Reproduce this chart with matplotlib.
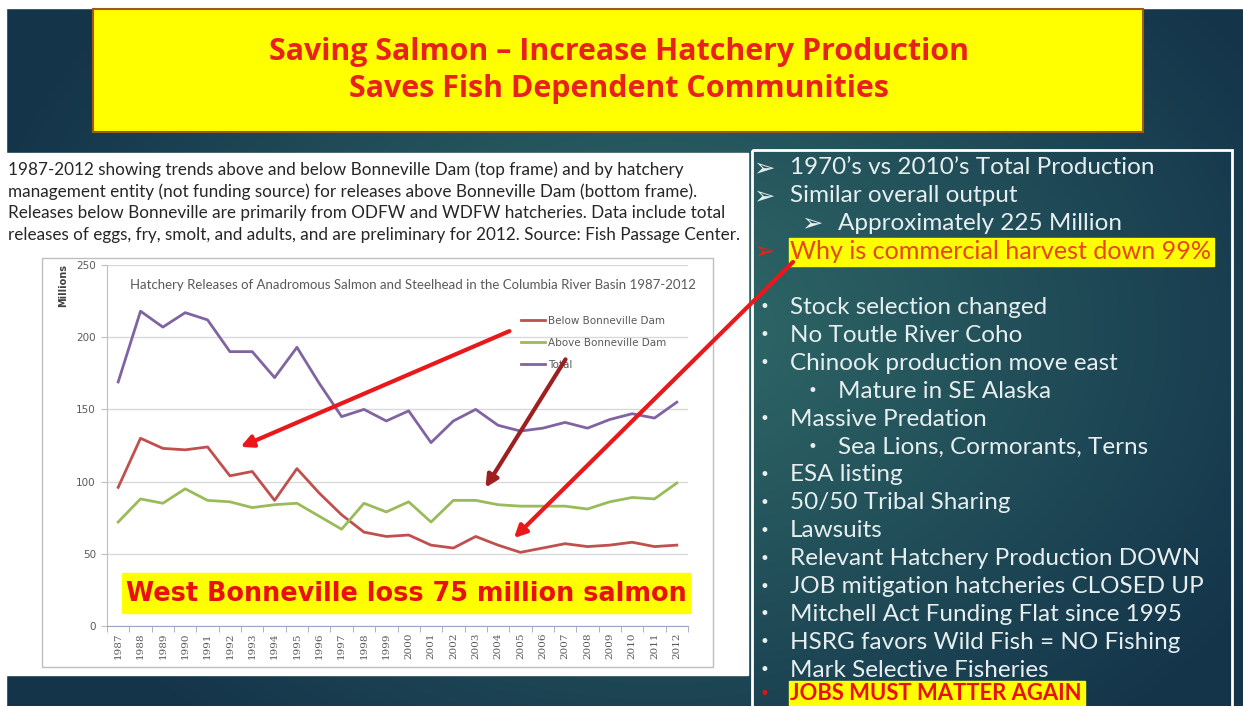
import numpy as np
import matplotlib.pyplot as plt
from matplotlib.patches import Rectangle, FancyArrowPatch
from matplotlib.lines import Line2D
import matplotlib.colors as mcolors

W, H = 1243, 706

# hatchery releases, millions of fish
years = list(range(1987, 2013))
below_bonneville = [96, 130, 123, 122, 124, 104, 107, 87, 109, 92, 77, 65, 62,
                    63, 56, 54, 62, 56, 51, 54, 57, 55, 56, 58, 55, 56]
above_bonneville = [72, 88, 85, 95, 87, 86, 82, 84, 85, 76, 67, 85, 79,
                    86, 72, 87, 87, 84, 83, 83, 83, 81, 86, 89, 88, 99]
total = [169, 218, 207, 217, 212, 190, 190, 172, 193, 168, 145, 150, 142,
         149, 127, 142, 150, 139, 135, 137, 141, 137, 143, 147, 144, 155]
series_names = ['Below Bonneville Dam', 'Above Bonneville Dam', 'Total']
series_colors = ['#C0504D', '#9BBB59', '#8064A2']

title_lines = ['Saving Salmon \u2013 Increase Hatchery Production',
               'Saves Fish Dependent Communities']
chart_title = 'Hatchery Releases of Anadromous Salmon and Steelhead in the Columbia River Basin 1987-2012'
caption_lines = [
    '1987-2012 showing trends above and below Bonneville Dam (top frame) and by hatchery',
    'management entity (not funding source) for releases above Bonneville Dam (bottom frame).',
    'Releases below Bonneville are primarily from ODFW and WDFW hatcheries. Data include total',
    'releases of eggs, fry, smolt, and adults, and are preliminary for 2012. Source: Fish Passage Center.',
]
banner = 'West Bonneville loss 75 million salmon'

# (indent level, bullet, text, style)
panel_lines = [
    (0, '\u27a2', '1970\u2019s vs 2010\u2019s Total Production', 'plain'),
    (0, '\u27a2', 'Similar overall output', 'plain'),
    (1, '\u27a2', 'Approximately 225 Million', 'plain'),
    (0, '\u27a2', 'Why is commercial harvest down 99%', 'highlight'),
    (0, '', '', 'plain'),
    (0, '\u2022', 'Stock selection changed', 'plain'),
    (0, '\u2022', 'No Toutle River Coho', 'plain'),
    (0, '\u2022', 'Chinook production move east', 'plain'),
    (1, '\u2022', 'Mature in SE Alaska', 'plain'),
    (0, '\u2022', 'Massive Predation', 'plain'),
    (1, '\u2022', 'Sea Lions, Cormorants, Terns', 'plain'),
    (0, '\u2022', 'ESA listing', 'plain'),
    (0, '\u2022', '50/50 Tribal Sharing', 'plain'),
    (0, '\u2022', 'Lawsuits', 'plain'),
    (0, '\u2022', 'Relevant Hatchery Production DOWN', 'plain'),
    (0, '\u2022', 'JOB mitigation hatcheries CLOSED UP', 'plain'),
    (0, '\u2022', 'Mitchell Act Funding Flat since 1995', 'plain'),
    (0, '\u2022', 'HSRG favors Wild Fish = NO Fishing', 'plain'),
    (0, '\u2022', 'Mark Selective Fisheries', 'plain'),
    (0, '\u2022', 'JOBS MUST MATTER AGAIN', 'jobs'),
]

fig = plt.figure(figsize=(W / 100, H / 100), dpi=100)


def pixel_axes(zorder):
    a = fig.add_axes([0, 0, 1, 1], zorder=zorder)
    a.set_xlim(0, W)
    a.set_ylim(H, 0)
    a.axis('off')
    a.patch.set_alpha(0)
    return a


def fit(t, width):
    # scale font so the text spans the given pixel width
    r = fig.canvas.get_renderer()
    w = t.get_window_extent(r).width
    t.set_fontsize(t.get_fontsize() * width / w)
    return t.get_fontsize()


# slide background
bg = pixel_axes(0)
yy, xx = np.mgrid[0:H, 0:W]
d = np.clip(np.hypot((xx - 660) / 700, (yy - 330) / 520), 0, 1)
light = np.array(mcolors.to_rgb('#306b69'))
dark = np.array(mcolors.to_rgb('#14344a'))
img = light * (1 - d[..., None]) + dark * d[..., None]
bg.imshow(img, extent=[0, W, H, 0], aspect='auto', zorder=0)
bg.add_patch(Rectangle((0, 0), W, 8, color='white', zorder=1))
bg.add_patch(Rectangle((0, 0), 6, H, color='white', zorder=1))
bg.add_patch(Rectangle((93, 9), 1050, 123, facecolor='#ffff00',
                       edgecolor='#9c5a1c', lw=1.5, zorder=2))
bg.add_patch(Rectangle((0, 153), 748, 522, color='white', zorder=2))
bg.add_patch(Rectangle((42, 258), 671, 409, facecolor='white',
                       edgecolor='#bfbfbf', lw=1, zorder=3))
bg.add_patch(Rectangle((752, 150), 480, 570, facecolor='none',
                       edgecolor='white', lw=2, zorder=3))

# the chart
ax = fig.add_axes([107 / W, 1 - 626 / H, (688 - 107) / W, (626 - 265) / H], zorder=1)
ax.patch.set_alpha(0)
x = np.arange(len(years))
for vals, c in zip([below_bonneville, above_bonneville, total], series_colors):
    ax.plot(x, vals, color=c, lw=2, zorder=3)
ax.set_xlim(-0.5, len(years) - 0.5)
ax.set_ylim(0, 250)
ax.set_yticks(range(0, 251, 50))
ax.grid(axis='y', color='#d9d9d9', lw=1)
ax.set_axisbelow(True)
ax.set_xticks(x)
ax.set_xticklabels([str(y) for y in years], rotation=90, fontsize=7.5, color='#595959',
                   family='DejaVu Serif')
ax.set_xticks(np.arange(-0.5, len(years)), minor=True)
ax.tick_params(axis='x', which='major', length=0, pad=5)
ax.tick_params(axis='x', which='minor', length=4, color='#9aa7c0')
ax.tick_params(axis='y', length=4, color='#bfbfbf', labelsize=7.5, labelcolor='#595959', pad=4)
for s in ['top', 'right']:
    ax.spines[s].set_visible(False)
ax.spines['left'].set_color('#bfbfbf')
ax.spines['bottom'].set_color('#9aa7c0')
handles = [Line2D([], [], color=c, lw=2) for c in series_colors]
ax.legend(handles, series_names, loc='upper left', bbox_to_anchor=(521 / W, 1 - 316 / H),
          bbox_transform=fig.transFigure, frameon=False, fontsize=7.5, labelcolor='#595959',
          handlelength=2.3, handletextpad=0.3, labelspacing=1.15, borderpad=0, borderaxespad=0)

# overlay: texts and arrows
ov = pixel_axes(5)
fig.text(63 / W, 1 - 285 / H, 'Millions', rotation=90, ha='center', va='center',
         fontsize=7, fontweight='bold', color='#404040')
t = ov.text(413, 285, chart_title, ha='center', va='center', color='#595959',
            fontsize=8, family='Lato')
fit(t, 567)

for i, line in enumerate(title_lines):
    t = ov.text(619, 52 + i * 37, line, ha='center', va='center', color='#e8211b',
                fontsize=20, fontweight='bold', family='Open Sans')
    if i == 0:
        tsize = fit(t, 702)
    else:
        t.set_fontsize(tsize)

cap = []
for i, line in enumerate(caption_lines):
    cap.append(ov.text(8, 170 + i * 21.7, line, ha='left', va='center', color='#262626',
                       fontsize=10, family='Lato'))
csize = fit(cap[3], 730)
for t in cap:
    t.set_fontsize(csize)

ov.add_patch(Rectangle((122, 573), 568, 40, color='#ffff00', zorder=2))
t = ov.text(406, 594, banner, ha='center', va='center', color='#e8110f', fontsize=17,
            fontweight='bold', family='DejaVu Sans', zorder=3)
fit(t, 562)

ref = ov.text(790, 168, panel_lines[0][2], ha='left', va='center', fontsize=16, family='Lato')
psize = fit(ref, 365)
ref.remove()
for i, (lvl, bullet, text, style) in enumerate(panel_lines):
    y = 168 + i * 27.9
    bx = 764 + lvl * 48
    tx = 790 + lvl * 48
    col = '#e6eeef'
    bcol = col
    weight = 'normal'
    width = None
    if style == 'highlight':
        ov.add_patch(Rectangle((789, 238), 425, 28, color='#ffff00', zorder=2))
        col = '#e8441a'
        bcol = '#e8211b'
        width = 423
    elif style == 'jobs':
        y = 694
        ov.add_patch(Rectangle((789, y - 13), 296, 28, color='#ffff00', zorder=2))
        col = '#e8110f'
        bcol = '#e8110f'
        weight = 'bold'
        width = 292
    if bullet:
        big = bullet != '\u2022'
        ov.text(bx, y, bullet, ha='center', va='center', color=bcol,
                fontsize=psize * (1.05 if big else 0.7), family='DejaVu Sans', zorder=3)
    if text:
        t = ov.text(tx, y, text, ha='left', va='center', color=col, fontsize=psize,
                    fontweight=weight, family='Lato', zorder=3)
        if width:
            fit(t, width)

arrows = [((512, 330), (238, 448), '#e8181b'),
          ((567, 357), (484, 490), '#9e1f1f'),
          ((795, 260), (512, 540), '#e8181b')]
for (x0, y0), (x1, y1), c in arrows:
    ov.add_patch(FancyArrowPatch((x0, y0), (x1, y1), arrowstyle='-|>', mutation_scale=18,
                                 lw=3, color=c, zorder=4))

fig.savefig('out.png', dpi=100)
